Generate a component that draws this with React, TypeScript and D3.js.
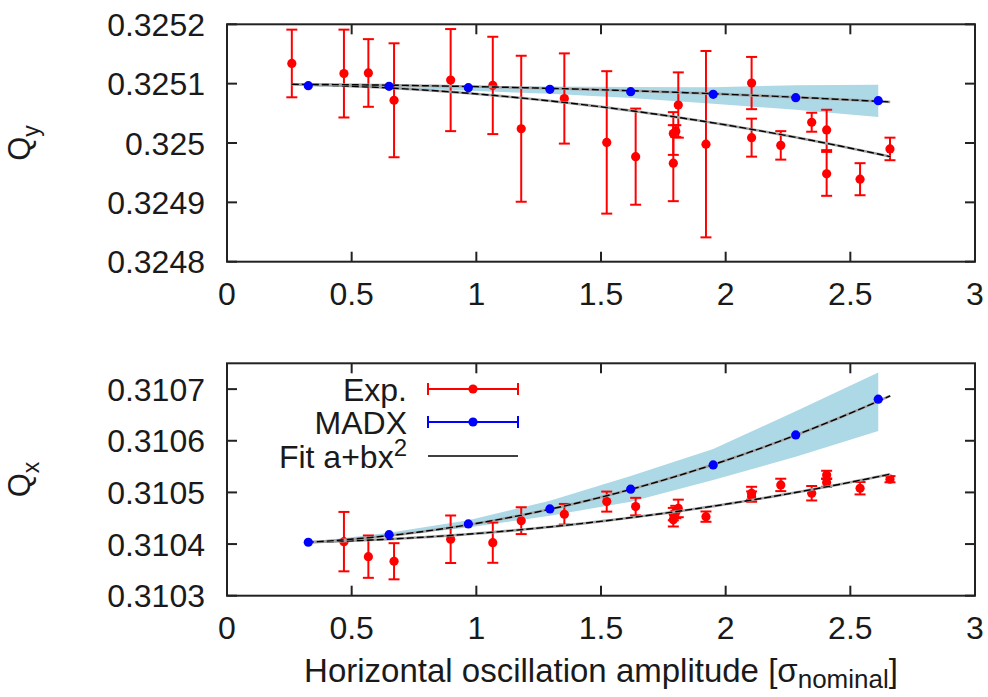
import React from 'react';
import * as d3 from 'd3';

// ---------- data ----------
const xTicks = [0, 0.5, 1, 1.5, 2, 2.5, 3];
const xTickLabels = ['0', '0.5', '1', '1.5', '2', '2.5', '3'];
const qyTicks = [0.3248, 0.3249, 0.325, 0.3251, 0.3252];
const qyTickLabels = ['0.3248', '0.3249', '0.325', '0.3251', '0.3252'];
const qxTicks = [0.3103, 0.3104, 0.3105, 0.3106, 0.3107];
const qxTickLabels = ['0.3103', '0.3104', '0.3105', '0.3106', '0.3107'];

// Experimental Qy
const expQyX = [0.26, 0.469, 0.567, 0.67, 0.897, 1.066, 1.18, 1.353, 1.523, 1.639, 1.81, 1.8, 1.79, 1.79, 1.921, 2.104, 2.104, 2.221, 2.345, 2.405, 2.405, 2.539, 2.659];
const expQyVal = [0.325134, 0.325117, 0.325118, 0.325072, 0.325106, 0.325097, 0.325024, 0.325075, 0.325001, 0.324977, 0.325064, 0.32502, 0.325016, 0.324966, 0.324998, 0.325101, 0.325009, 0.324996, 0.325035, 0.325022, 0.324948, 0.324939, 0.32499];
const expQyErr = [0.000057, 0.000074, 0.000057, 0.000096, 0.000086, 0.000082, 0.000123, 0.000076, 0.00012, 0.000081, 0.000055, 0.00001, 0.000036, 0.000064, 0.000157, 0.000044, 0.000032, 0.000024, 0.000016, 0.000034, 0.000037, 0.000027, 0.000019];

// Experimental Qx
const expQxX = [0.469, 0.567, 0.67, 0.897, 1.066, 1.18, 1.353, 1.523, 1.639, 1.81, 1.8, 1.79, 1.79, 1.921, 2.104, 2.104, 2.221, 2.345, 2.405, 2.405, 2.539, 2.659];
const expQxVal = [0.3104047, 0.3103756, 0.3103667, 0.3104093, 0.3104027, 0.3104453, 0.3104577, 0.3104822, 0.3104725, 0.310469, 0.310462, 0.310458, 0.310447, 0.3104531, 0.3104984, 0.3104919, 0.3105145, 0.3104984, 0.3105339, 0.310519, 0.3105081, 0.3105256];
const expQxErr = [0.0000575, 0.000041, 0.000035, 0.000046, 0.000039, 0.000026, 0.00002, 0.0000194, 0.000017, 0.000017, 0.000012, 0.000012, 0.000013, 0.00001, 0.0000125, 0.00001, 0.000012, 0.000014, 0.000008, 0.000008, 0.000012, 0.000006];

// MADX simulation
const madxX = [0.326, 0.65, 0.968, 1.295, 1.619, 1.95, 2.281, 2.612];
const madxQy = [0.3250966, 0.3250955, 0.3250932, 0.3250905, 0.3250864, 0.325082, 0.3250763, 0.3250713];
const madxQyHi = [0.3250975, 0.325096, 0.325095, 0.325095, 0.3250945, 0.325094, 0.3250975, 0.325098];
const madxQyLo = [0.3250955, 0.325093, 0.325088, 0.325083, 0.325076, 0.325066, 0.325056, 0.325044];
const madxQx = [0.3104035, 0.3104182, 0.310439, 0.310468, 0.3105062, 0.3105533, 0.3106114, 0.3106806];
const madxQxHi = [0.3104035, 0.310422, 0.310446, 0.310484, 0.310532, 0.310584, 0.310657, 0.310732];
const madxQxLo = [0.3104035, 0.310415, 0.310432, 0.310455, 0.310482, 0.310524, 0.310569, 0.310619];

// Fits a + b x^2 : [a, b, xmin, xmax]
const fitQyExp = [0.3251001, -1.74e-5, 0.26, 2.66];
const fitQyMadx = [0.3250992, -4.25e-6, 0.26, 2.66];
const fitQxExp = [0.3104015, 1.891e-5, 0.32, 2.66];
const fitQxMadx = [0.3103992, 4.068e-5, 0.32, 2.66];

const legendLabels = ['Exp.', 'MADX'];

// ---------- layout ----------
const W = 988, H = 697;
const L = 227, R = 975;
const FONT = '"Liberation Sans", Arial, sans-serif';
const TXT = '#1a1a1a';
const RED = '#ff0000';
const BLUE = '#0000ff';
const BAND = '#add8e6';

const xScale = d3.scaleLinear().domain([0, 3]).range([L, R]);

function FitLine({ fit, y }: { fit: number[]; y: d3.ScaleLinear<number, number> }) {
  const [a, b, x0, x1] = fit;
  const xs = d3.range(0, 101).map(i => x0 + (x1 - x0) * i / 100);
  const line = d3.line<number>().x(v => xScale(v)).y(v => y(a + b * v * v));
  const d = line(xs) || '';
  return (
    <g>
      <path d={d} fill="none" stroke="#a0a0a0" strokeWidth={2.6} />
      <path d={d} fill="none" stroke="#000" strokeWidth={1.4} strokeDasharray="7,3" />
    </g>
  );
}

function Panel({ top, bottom, yDomain, ticks, tickLabels, ex, ev, ee, mv, mhi, mlo, fitE, fitM, title }: any) {
  const y = d3.scaleLinear().domain(yDomain).range([bottom, top]);
  const area = d3.area<number>().x((_, i) => xScale(madxX[i])).y0((_, i) => y(mlo[i])).y1((_, i) => y(mhi[i]));
  const cap = 5.5;
  return (
    <g>
      <path d={area(madxX) || ''} fill={BAND} />
      {ex.map((xv: number, i: number) => {
        const cx = xScale(xv);
        const y1 = y(ev[i] + ee[i]);
        const y2 = y(ev[i] - ee[i]);
        return (
          <g key={'e' + i} stroke={RED} strokeWidth={2}>
            <line x1={cx} x2={cx} y1={Math.max(y1, top)} y2={Math.min(y2, bottom)} />
            {y1 >= top && <line x1={cx - cap} x2={cx + cap} y1={y1} y2={y1} />}
            {y2 <= bottom && <line x1={cx - cap} x2={cx + cap} y1={y2} y2={y2} />}
            <circle cx={cx} cy={y(ev[i])} r={4.6} fill={RED} stroke="none" />
          </g>
        );
      })}
      <FitLine fit={fitE} y={y} />
      <FitLine fit={fitM} y={y} />
      {madxX.map((xv, i) => (
        <circle key={'m' + i} cx={xScale(xv)} cy={y(mv[i])} r={4.6} fill={BLUE} />
      ))}
      <rect x={L} y={top} width={R - L} height={bottom - top} fill="none" stroke="#222" strokeWidth={2} />
      {xTicks.map((t, i) => (
        <g key={'xt' + i} stroke="#222" strokeWidth={2}>
          <line x1={xScale(t)} x2={xScale(t)} y1={bottom} y2={bottom - 10} />
          <line x1={xScale(t)} x2={xScale(t)} y1={top} y2={top + 10} />
        </g>
      ))}
      {ticks.map((t: number, i: number) => (
        <g key={'yt' + i} stroke="#222" strokeWidth={2}>
          <line x1={L} x2={L + 10} y1={y(t)} y2={y(t)} />
          <line x1={R} x2={R - 10} y1={y(t)} y2={y(t)} />
        </g>
      ))}
      {ticks.map((t: number, i: number) => (
        <text key={'yl' + i} x={205} y={y(t)} dy="0.36em" textAnchor="end" fontSize={32} fill={TXT} fontFamily={FONT}>
          {tickLabels[i]}
        </text>
      ))}
      {xTicks.map((t, i) => (
        <text key={'xl' + i} x={xScale(t)} y={bottom + 43} textAnchor="middle" fontSize={32} fill={TXT} fontFamily={FONT}>
          {xTickLabels[i]}
        </text>
      ))}
      <text transform={`translate(${30},${(top + bottom) / 2}) rotate(-90)`} textAnchor="middle" fontSize={31} fill={TXT} fontFamily={FONT}>
        Q<tspan fontSize={23} dy={9}>{title}</tspan>
      </text>
    </g>
  );
}

export default function App() {
  const legX0 = 428, legX1 = 518, legTextX = 407;
  const legY = [389, 422, 456];
  return (
    <svg width={W} height={H} style={{ position: 'absolute', left: 0, top: 0, background: '#fff' }} xmlns="http://www.w3.org/2000/svg">
      <rect x={0} y={0} width={W} height={H} fill="#fff" />
      <Panel top={24.3} bottom={261.7} yDomain={[0.3248, 0.3252]} ticks={qyTicks} tickLabels={qyTickLabels}
        ex={expQyX} ev={expQyVal} ee={expQyErr} mv={madxQy} mhi={madxQyHi} mlo={madxQyLo}
        fitE={fitQyExp} fitM={fitQyMadx} title="y" />
      <Panel top={363.3} bottom={595.7} yDomain={[0.3103, 0.31075]} ticks={qxTicks} tickLabels={qxTickLabels}
        ex={expQxX} ev={expQxVal} ee={expQxErr} mv={madxQx} mhi={madxQxHi} mlo={madxQxLo}
        fitE={fitQxExp} fitM={fitQxMadx} title="x" />
      {legendLabels.map((lab, i) => {
        const c = i === 0 ? RED : BLUE;
        return (
          <g key={'lg' + i}>
            <text x={legTextX} y={legY[i]} dy="0.36em" textAnchor="end" fontSize={32} fill={TXT} fontFamily={FONT}>{lab}</text>
            <g stroke={c} strokeWidth={2}>
              <line x1={legX0} x2={legX1} y1={legY[i]} y2={legY[i]} />
              <line x1={legX0} x2={legX0} y1={legY[i] - 6} y2={legY[i] + 6} />
              <line x1={legX1} x2={legX1} y1={legY[i] - 6} y2={legY[i] + 6} />
            </g>
            <circle cx={(legX0 + legX1) / 2} cy={legY[i]} r={4.6} fill={c} />
          </g>
        );
      })}
      <text x={legTextX} y={legY[2] + 12} textAnchor="end" fontSize={32} fill={TXT} fontFamily={FONT}>
        Fit a+bx<tspan fontSize={24} dy={-12}>2</tspan>
      </text>
      <line x1={legX0} x2={legX1} y1={legY[2]} y2={legY[2]} stroke="#000" strokeWidth={1.6} />
      <text x={(L + R) / 2} y={682} textAnchor="middle" fontSize={33} fill={TXT} fontFamily={FONT}>
        Horizontal oscillation amplitude [σ<tspan fontSize={26} dy={6}>nominal</tspan><tspan dy={-6}>]</tspan>
      </text>
    </svg>
  );
}
